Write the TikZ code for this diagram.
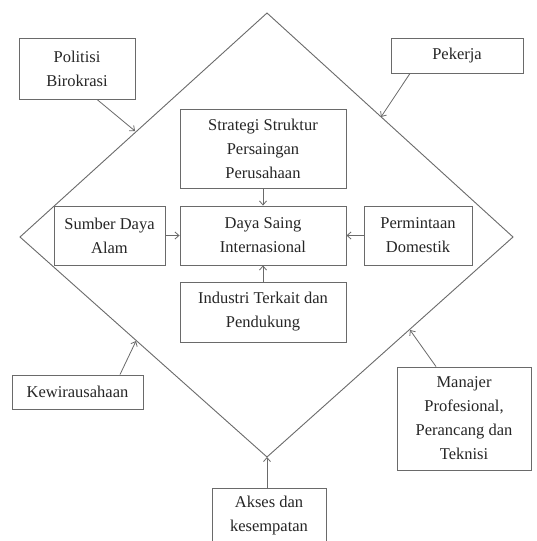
\documentclass[tikz,border=0pt]{standalone}
\usepackage{fontspec}
\setmainfont{Liberation Serif}
\usetikzlibrary{arrows.meta,calc}
\definecolor{edge}{HTML}{6A6A6A}
\definecolor{ink}{HTML}{262626}
\tikzset{
  box/.style={draw=edge, line width=0.9pt, align=center, text=ink,
    font=\fontsize{16.5}{24}\selectfont, inner sep=0pt},
  conn/.style={draw=edge, line width=0.8pt, -{Straight Barb[length=4pt,width=7pt]}},
  frame/.style={draw=edge, line width=0.9pt}
}
\begin{document}
\begin{tikzpicture}[x=1pt,y=-1pt]
\useasboundingbox[fill=white] (0,0) rectangle (536,541);
% diamond
\coordinate (T) at (267,13);
\coordinate (L) at (20,237);
\coordinate (R) at (513,237);
\coordinate (B) at (267,457);
\draw[frame] (T) -- (R) -- (B) -- (L) -- cycle;
% target points on the diamond
\coordinate (ePol) at (135,131);
\coordinate (ePek) at (381,117);
\coordinate (eKew) at (136,341);
\coordinate (eMan) at (410,330);
% boxes
\node[box, minimum width=116, minimum height=61] (pol) at (77,68.5) {Politisi\\Birokrasi};
\node[box, minimum width=132, minimum height=35] (pek) at (457,55.5) {Pekerja};
\node[box, minimum width=166, minimum height=79] (strat) at (263,148.5) {Strategi Struktur\\Persaingan\\Perusahaan};
\node[box, minimum width=111, minimum height=59] (sda) at (109.5,235.5) {Sumber Daya\\Alam};
\node[box, minimum width=166, minimum height=59] (dsi) at (263,235.5) {Daya Saing\\Internasional};
\node[box, minimum width=108, minimum height=59] (pd) at (418,235.5) {Permintaan\\Domestik};
\node[box, minimum width=166, minimum height=60] (ind) at (263,312) {Industri Terkait dan\\Pendukung};
\node[box, minimum width=131, minimum height=34] (kew) at (77.5,392) {Kewirausahaan};
\node[box, minimum width=134, minimum height=103] (man) at (464,418.5) {Manajer\\Profesional,\\Perancang dan\\Teknisi};
\node[box, minimum width=114, inner ysep=8pt, anchor=north] (akses) at (269,488) {Akses dan\\kesempatan};
% connectors
\draw[conn] (strat.south) -- (dsi.north);
\draw[conn] (sda.east) -- (dsi.west);
\draw[conn] (pd.west) -- (dsi.east);
\draw[conn] (ind.north) -- (dsi.south);
\draw[conn] ($(pol.south)+(20,0)$) -- (ePol);
\draw[conn] ($(pek.south)+(-47,0)$) -- (ePek);
\draw[conn] ($(kew.north)+(42.5,0)$) -- (eKew);
\draw[conn] ($(man.north)+(-28,0)$) -- (eMan);
\draw[conn] (akses.north -| B) -- (B);
\end{tikzpicture}
\end{document}
